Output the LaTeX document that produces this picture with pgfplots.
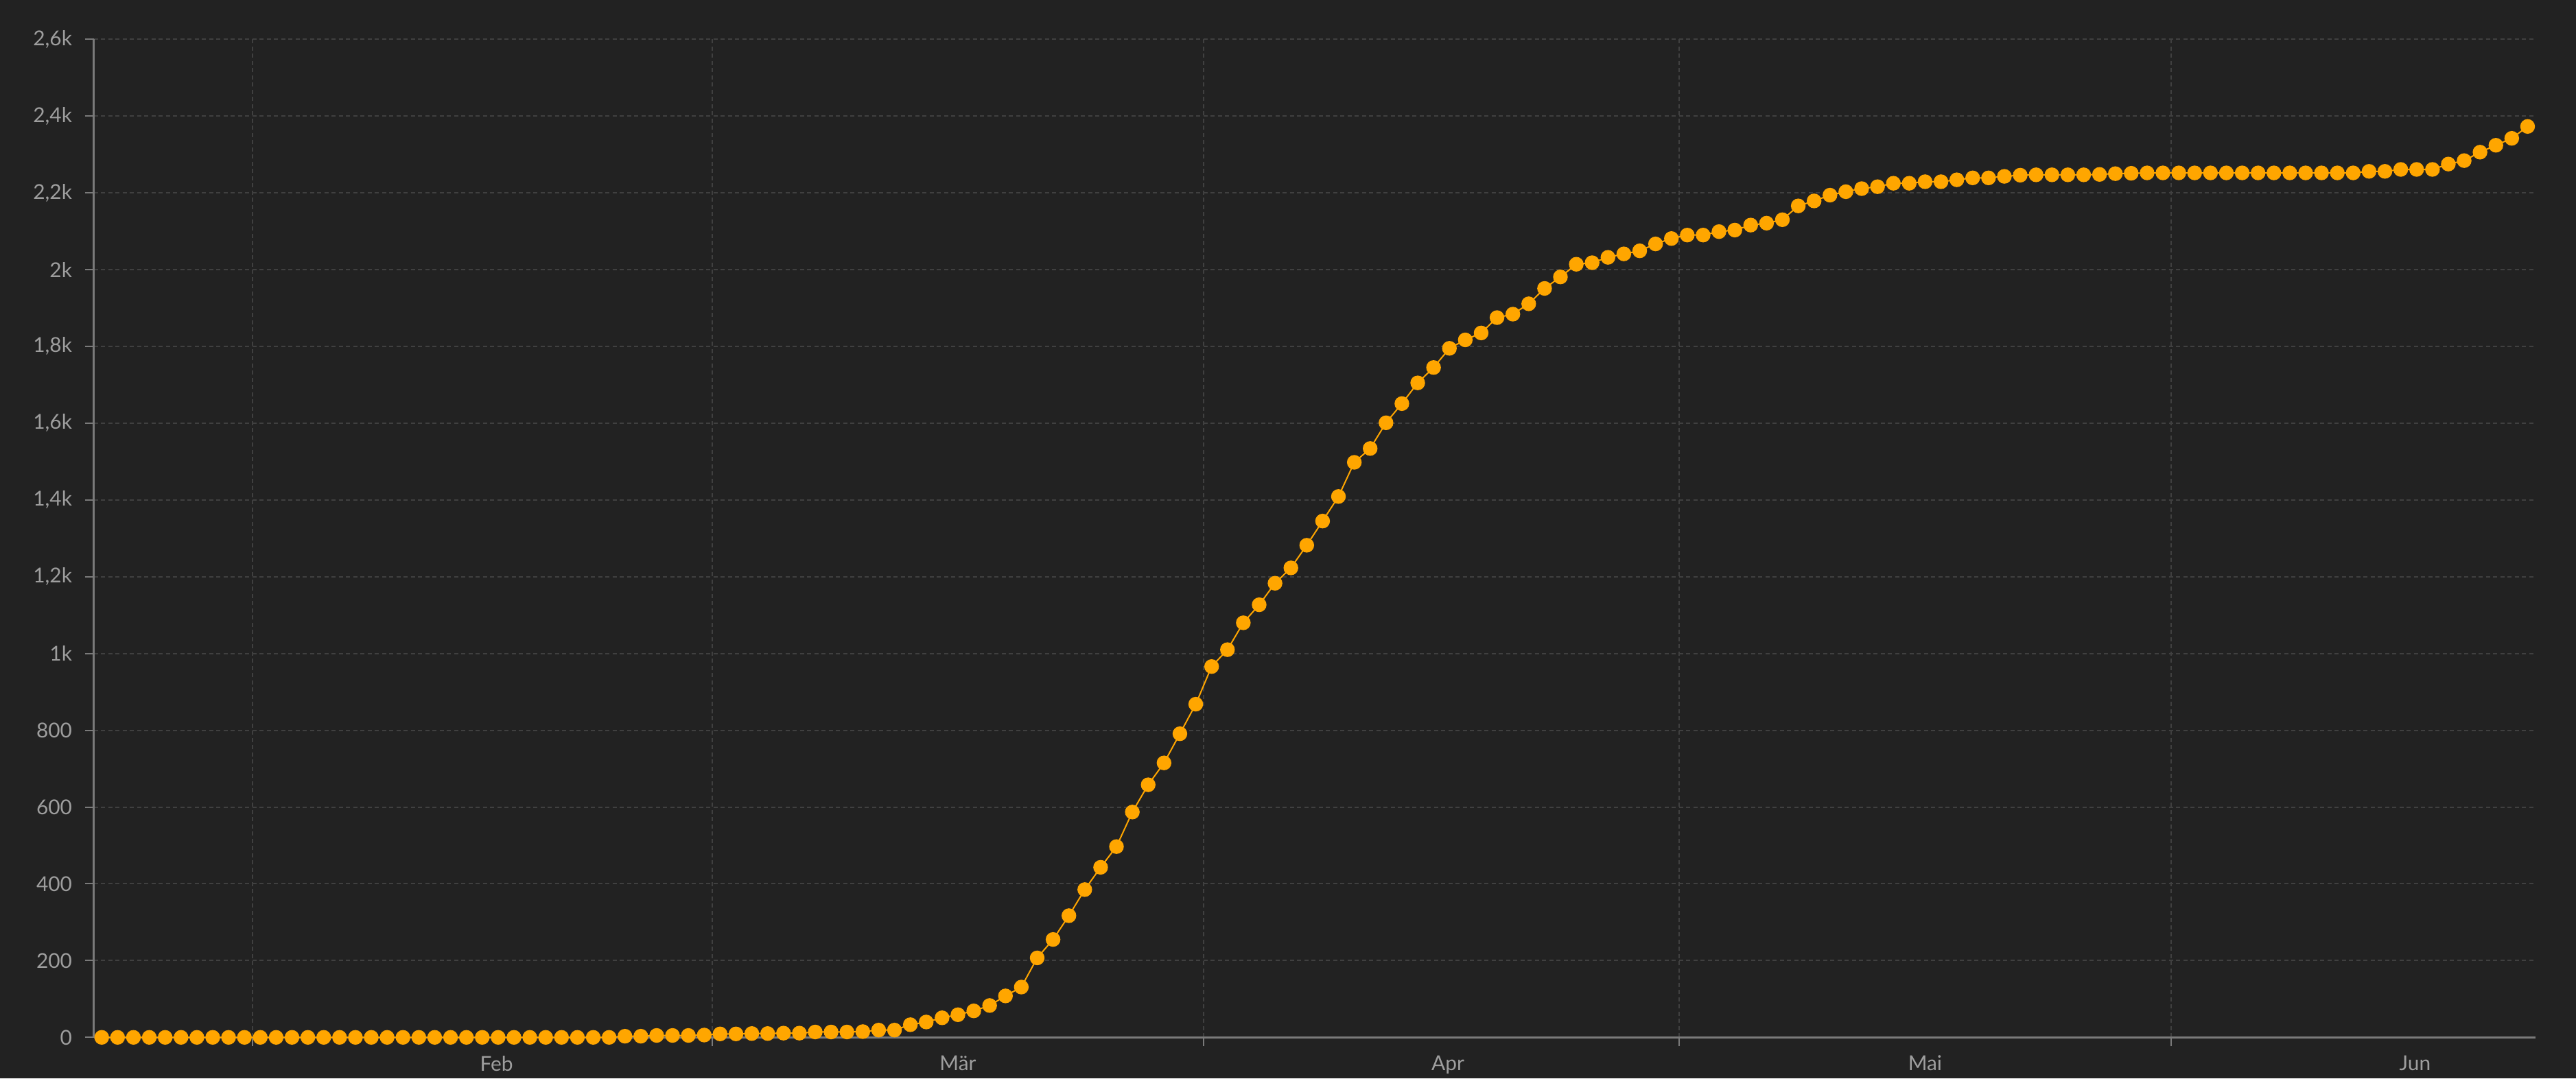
\documentclass[border=0pt]{standalone}
\usepackage{fontspec}
\setmainfont{Lato}
\usepackage{pgfplots}
\pgfplotsset{compat=1.18}
\definecolor{bg}{HTML}{222222}
\definecolor{gridc}{HTML}{404040}
\definecolor{axc}{HTML}{7A7A7A}
\definecolor{labc}{HTML}{9E9E9E}
\definecolor{ora}{HTML}{FFA600}
\begin{document}
\begin{tikzpicture}
\fill[bg] (0,0) rectangle (375.4mm,157.2mm);
\begin{axis}[
 at={(13.67mm,5.97mm)}, anchor=south west,
 scale only axis, width=355.83mm, height=145.5mm,
 xmin=-0.5, xmax=153.5, ymin=0, ymax=2600,
 axis lines*=left,
 axis line style={axc, line width=0.25mm},
 xtick={9.5,38.5,69.5,99.5,130.5},
 xticklabels={,,,,},
 extra x ticks={24.9,54,84.9,115,145.9},
 extra x tick labels={Feb,Mär,Apr,Mai,Jun},
 extra x tick style={grid=none, major tick length=0pt},
 ytick={0,200,...,2600},
 yticklabels={0,200,400,600,800,1k,{1,2k},{1,4k},{1,6k},{1,8k},2k,{2,2k},{2,4k},{2,6k}},
 tick align=outside,
 major tick length=1.3mm,
 grid=major,
 major grid style={gridc, line width=0.2mm, dash pattern=on 0.6mm off 0.45mm},
 tick style={axc, line width=0.2mm, solid},
 ticklabel style={font=\fontsize{8.5}{10}\selectfont, text=labc},
 yticklabel style={inner sep=0pt, xshift=-1.8mm},
 xticklabel style={inner sep=0pt, yshift=-2.6mm},
 clip=false,
]
\addplot[ora, line width=0.2mm, mark=*, mark size=0.97mm, mark options={fill=ora, draw=none}] coordinates {
(0,0)(1,0)(2,0)(3,0)(4,0)(5,0)(6,0)(7,0)(8,0)(9,0)
(10,0)(11,0)(12,0)(13,0)(14,0)(15,0)(16,0)(17,0)(18,0)(19,0)
(20,0)(21,0)(22,0)(23,0)(24,0)(25,0)(26,0)(27,0)(28,0)(29,0)
(30,0)(31,0)(32,0)(33,3)(34,3)(35,5)(36,5)(37,5)(38,6)(39,9)
(40,9)(41,10)(42,10)(43,11)(44,11)(45,14)(46,14)(47,14)(48,15)(49,19)
(50,19)(51,33)(52,40)(53,51)(54,59)(55,69)(56,83)(57,108)(58,131)(59,207)
(60,255)(61,317)(62,385)(63,443)(64,497)(65,587)(66,658)(67,715)(68,791)(69,868)
(70,966)(71,1010)(72,1080)(73,1127)(74,1183)(75,1223)(76,1282)(77,1345)(78,1409)(79,1498)
(80,1534)(81,1601)(82,1651)(83,1705)(84,1745)(85,1795)(86,1817)(87,1835)(88,1875)(89,1884)
(90,1911)(91,1951)(92,1981)(93,2014)(94,2018)(95,2032)(96,2041)(97,2049)(98,2067)(99,2081)
(100,2090)(101,2090)(102,2099)(103,2103)(104,2116)(105,2121)(106,2130)(107,2166)(108,2179)(109,2194)
(110,2203)(111,2211)(112,2216)(113,2225)(114,2225)(115,2229)(116,2229)(117,2234)(118,2239)(119,2239)
(120,2243)(121,2246)(122,2247)(123,2247)(124,2247)(125,2247)(126,2248)(127,2250)(128,2251)(129,2252)
(130,2252)(131,2252)(132,2252)(133,2252)(134,2252)(135,2252)(136,2252)(137,2252)(138,2252)(139,2252)
(140,2252)(141,2252)(142,2252)(143,2256)(144,2256)(145,2261)(146,2261)(147,2261)(148,2275)(149,2284)
(150,2306)(151,2324)(152,2342)(153,2373)
};
\end{axis}
\pgfresetboundingbox
\path (0,0) rectangle (375.4mm,157.2mm);
\end{tikzpicture}
\end{document}
